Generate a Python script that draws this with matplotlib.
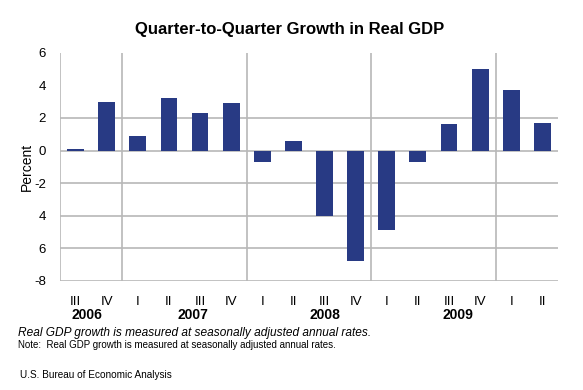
import matplotlib
matplotlib.use("Agg")
import matplotlib.pyplot as plt
from matplotlib.ticker import FixedLocator

plt.rcParams['font.family'] = ['Liberation Sans', 'DejaVu Sans']

# quarterly growth, 2006 Q3 .. 2010 Q2
quarters = ['III', 'IV',
            'I', 'II', 'III', 'IV',
            'I', 'II', 'III', 'IV',
            'I', 'II', 'III', 'IV',
            'I', 'II']
growth = [0.1, 3.0,
          0.9, 3.2, 2.3, 2.9,
          -0.7, 0.6, -4.0, -6.8,
          -4.9, -0.7, 1.6, 5.0,
          3.7, 1.7]
years = ['2006', '2007', '2008', '2009']
year_pos = [0.38, 3.77, 8.02, 12.3]   # where the year captions sit (bar index)
year_breaks = [1.5, 5.5, 9.5, 13.5]
y_ticks = [6, 4, 2, 0, -2, -4, -6, -8]
y_labels = ['6', '4', '2', '0', '-2', '4', '6', '-8']  # as printed on the original

bar_color = '#283a84'
grid_color = '#b8b8b8'

fig = plt.figure(figsize=(5.83, 3.90), dpi=100)
ax = fig.add_axes([0.1029, 0.2795, 0.8541, 0.5854])

x = list(range(len(growth)))
ax.bar(x, growth, width=0.54, color=bar_color, zorder=3)

ax.set_xlim(-0.5, len(growth) - 0.5)
ax.set_ylim(-8, 6)

# horizontal grid (the original shows none at 4 and 6)
for v in [2, 0, -2, -4, -6, -8]:
    ax.axhline(v, color=grid_color, lw=1.2, zorder=1)
for b in year_breaks:
    ax.axvline(b, color=grid_color, lw=1.2, zorder=1)
ax.axvline(-0.5, color=grid_color, lw=1.2, zorder=1)

for s in ax.spines.values():
    s.set_visible(False)

ax.yaxis.set_major_locator(FixedLocator(y_ticks))
ax.set_yticklabels(y_labels, fontsize=9.5)
ax.tick_params(axis='y', length=0, pad=10)
ax.set_xticks(x)
ax.set_xticklabels(quarters, fontsize=9.5)
ax.tick_params(axis='x', length=0, pad=11)

ax.set_ylabel('Percent', fontsize=10, labelpad=0)

for yr, p in zip(years, year_pos):
    ax.text(p, -0.147, yr, transform=ax.get_xaxis_transform(),
            ha='center', va='center', fontsize=10, fontweight='bold')

fig.text(0.497, 0.925, 'Quarter-to-Quarter Growth in Real GDP',
         ha='center', va='center', fontsize=12, fontweight='bold')

fig.text(0.031, 0.146, 'Real GDP growth is measured at seasonally adjusted annual rates.',
         ha='left', va='center', fontsize=8.6, style='italic')
fig.text(0.031, 0.115, 'Note:  Real GDP growth is measured at seasonally adjusted annual rates.',
         ha='left', va='center', fontsize=7.0, stretch='condensed')
fig.text(0.034, 0.038, 'U.S. Bureau of Economic Analysis',
         ha='left', va='center', fontsize=7.2)

fig.savefig('out.png', dpi=100)
